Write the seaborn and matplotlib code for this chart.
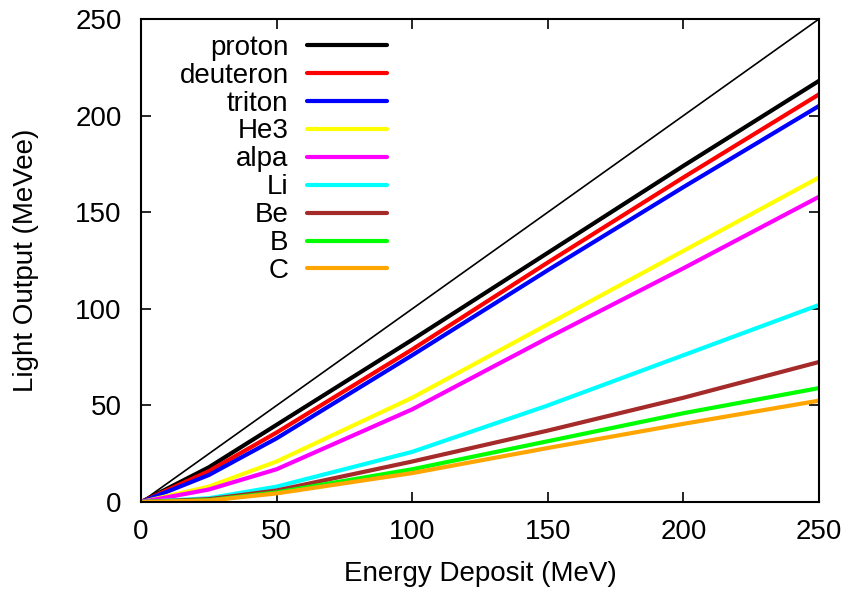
import matplotlib
matplotlib.use("Agg")
import matplotlib.pyplot as plt
import seaborn as sns
import pandas as pd
from matplotlib.lines import Line2D

# Energy deposit sample points (MeV)
energy = [0, 25, 50, 100, 150, 200, 250]

# Light output (MeVee)
proton   = [0, 18, 40, 84, 129, 174, 218]
deuteron = [0, 16, 36, 79, 124, 168, 211]
triton   = [0, 14, 33, 76, 120, 163, 205]
he3      = [0, 8, 21, 54, 92, 130, 168]
alpa     = [0, 6.5, 17, 48, 85, 121, 158]
li       = [0, 2, 8, 26, 50, 76, 102]
be       = [0, 1.5, 6, 21, 37, 54, 72.5]
b        = [0, 1, 5, 17, 31.5, 46, 59]
c        = [0, 0.8, 4.5, 15, 28, 40.5, 52.5]

# reference line y = x
diag_x = [0, 250]
diag_y = [0, 250]

labels = ["proton", "deuteron", "triton", "He3", "alpa", "Li", "Be", "B", "C"]
series = [proton, deuteron, triton, he3, alpa, li, be, b, c]
colors = ["#000000", "#ff0000", "#0000ff", "#ffff00", "#ff00ff",
          "#00ffff", "#a52a2a", "#00ff00", "#ffa500"]

x_ticks = [0, 50, 100, 150, 200, 250]
y_ticks = [0, 50, 100, 150, 200, 250]

sns.set_theme(style="ticks")
plt.rcParams["font.family"] = ["Liberation Sans", "DejaVu Sans"]
plt.rcParams["text.color"] = "black"
plt.rcParams["axes.labelcolor"] = "black"
plt.rcParams["xtick.color"] = "black"
plt.rcParams["ytick.color"] = "black"

fig = plt.figure(figsize=(8.48, 5.90), dpi=100)
ax = fig.add_axes([0.1663, 0.149, 0.7995, 0.8188])

rows = []
for lab, vals in zip(labels, series):
    for e, v in zip(energy, vals):
        rows.append({"energy": e, "light": v, "particle": lab})
df = pd.DataFrame(rows)

sns.lineplot(x=diag_x, y=diag_y, ax=ax, color="black", linewidth=1.2,
             legend=False)
sns.lineplot(data=df, x="energy", y="light", hue="particle",
             hue_order=labels, palette=dict(zip(labels, colors)),
             linewidth=3, ax=ax, legend=False, sort=False)

ax.set_xlim(0, 250)
ax.set_ylim(0, 250)
ax.set_xticks(x_ticks)
ax.set_yticks(y_ticks)
fs = 20
ax.tick_params(direction="in", length=7, width=1.2, labelsize=fs,
               top=True, right=True)
ax.tick_params(axis="x", pad=12)
ax.tick_params(axis="y", pad=14)
for s in ax.spines.values():
    s.set_linewidth(1.5)
    s.set_color("black")
ax.set_xlabel("Energy Deposit (MeV)", fontsize=fs, labelpad=12)
ax.set_ylabel("Light Output (MeVee)", fontsize=fs, labelpad=26)

handles = [Line2D([0], [0], color=col, lw=3) for col in colors]
ax.legend(handles, labels, loc="upper left", bbox_to_anchor=(0.03, 1.005),
          frameon=False, markerfirst=False, fontsize=fs,
          handlelength=2.9, handletextpad=0.65, labelspacing=0.07,
          borderaxespad=0.25)

fig.savefig("out.png", dpi=100)
